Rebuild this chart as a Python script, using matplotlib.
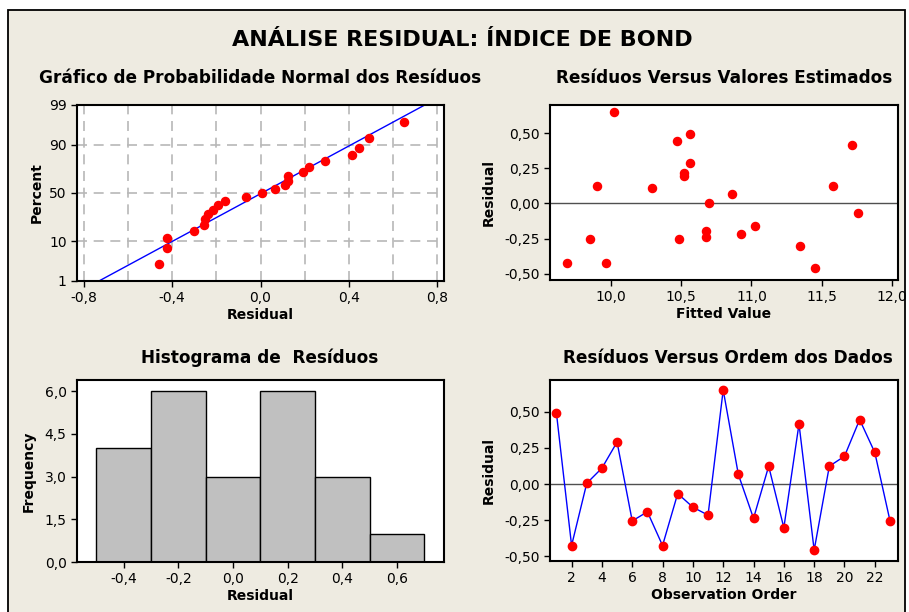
import matplotlib
matplotlib.use('Agg')
import matplotlib.pyplot as plt
from matplotlib.patches import Rectangle
from matplotlib.ticker import FuncFormatter, FixedLocator
from statistics import NormalDist
import numpy as np

# resíduos na ordem das observações
residuals = [0.49, -0.425, 0.005, 0.11, 0.29, -0.255, -0.192, -0.425, -0.066, -0.16,
             -0.215, 0.65, 0.066, -0.237, 0.123, -0.302, 0.415, -0.457, 0.123, 0.192,
             0.445, 0.218, -0.253]
# valores ajustados (mesma ordem)
fitted = [10.562, 9.685, 10.699, 10.294, 10.562, 10.486, 10.675, 9.964, 11.756, 11.024,
          10.924, 10.021, 10.858, 10.675, 11.578, 11.348, 11.713, 11.453, 9.898, 10.519,
          10.472, 10.519, 9.853]
observation = list(range(1, len(residuals) + 1))

hist_bins = [-0.5, -0.3, -0.1, 0.1, 0.3, 0.5, 0.7]
percent_ticks = [1, 10, 50, 90, 99]

W, H = 909, 612
BG = '#EEEBE1'

fig = plt.figure(figsize=(W / 100, H / 100), dpi=100)
fig.patch.set_facecolor('white')
fig.patches.append(Rectangle((8 / W, -0.02), (905 - 8) / W, 1.02 - 10 / H,
                             transform=fig.transFigure, facecolor=BG,
                             edgecolor='black', lw=1.3, zorder=-10))


def comma(fmt):
    return FuncFormatter(lambda v, pos: fmt.format(v).replace('.', ','))


def add_axes_px(left, top, right, bottom):
    ax = fig.add_axes([left / W, 1 - bottom / H, (right - left) / W, (bottom - top) / H])
    for side in ['left', 'right', 'top', 'bottom']:
        ax.spines[side].set_linewidth(1.5)
    ax.tick_params(direction='out', length=4, width=1, labelsize=10, top=False, right=False)
    return ax


# título geral
fig.text(462 / W, 1 - 40 / H, 'ANÁLISE RESIDUAL: ÍNDICE DE BOND',
         ha='center', va='center', fontsize=16, fontweight='bold')

# --- gráfico de probabilidade normal ---
nd = NormalDist()
n = len(residuals)
sorted_res = np.sort(residuals)
probs = (np.arange(1, n + 1) - 0.3) / (n + 0.4)
zs = [nd.inv_cdf(p) for p in probs]
mu = np.mean(residuals)
sd = np.std(residuals, ddof=1)
line_z = np.linspace(-3, 3, 50)

ax1 = add_axes_px(77, 105, 444, 281)
ax1.plot(mu + sd * line_z, line_z, color='blue', lw=1, zorder=2)
ax1.scatter(sorted_res, zs, color='red', s=34, zorder=3)
ax1.set_xlim(-0.83, 0.83)
ax1.set_ylim(nd.inv_cdf(0.01), nd.inv_cdf(0.99))
ax1.set_yticks([nd.inv_cdf(p / 100) for p in percent_ticks])
ax1.set_yticklabels([str(p) for p in percent_ticks])
ax1.set_xticks([-0.8, -0.4, 0.0, 0.4, 0.8])
ax1.xaxis.set_minor_locator(FixedLocator([-0.6, -0.2, 0.2, 0.6]))
ax1.xaxis.set_major_formatter(comma('{:.1f}'))
ax1.tick_params(axis='x', which='minor', length=0)
ax1.grid(True, which='both', color='#B8B8B8', linestyle=(0, (6, 4)), lw=1.2)
ax1.set_axisbelow(True)
ax1.set_xlabel('Residual', fontsize=10, fontweight='bold', labelpad=2)
ax1.set_ylabel('Percent', fontsize=10, fontweight='bold', labelpad=4)
fig.text(260 / W, 1 - 78 / H, 'Gráfico de Probabilidade Normal dos Resíduos',
         ha='center', va='center', fontsize=12.2, fontweight='bold')

# --- resíduos vs valores ajustados ---
ax2 = add_axes_px(550, 105, 898, 280)
ax2.axhline(0, color='#505050', lw=1)
ax2.scatter(fitted, residuals, color='red', s=34, zorder=3)
ax2.set_xlim(9.566, 12.043)
ax2.set_ylim(-0.543, 0.699)
ax2.set_xticks([10.0, 10.5, 11.0, 11.5, 12.0])
ax2.set_yticks([-0.5, -0.25, 0.0, 0.25, 0.5])
ax2.xaxis.set_major_formatter(comma('{:.1f}'))
ax2.yaxis.set_major_formatter(comma('{:.2f}'))
ax2.set_xlabel('Fitted Value', fontsize=10, fontweight='bold', labelpad=2)
ax2.set_ylabel('Residual', fontsize=10, fontweight='bold', labelpad=6)
fig.text(724 / W, 1 - 78 / H, 'Resíduos Versus Valores Estimados',
         ha='center', va='center', fontsize=12.2, fontweight='bold')

# --- histograma ---
ax3 = add_axes_px(77, 380, 444, 562)
ax3.hist(residuals, bins=hist_bins, color='#C0C0C0', edgecolor='black', lw=1)
ax3.set_xlim(-0.571, 0.772)
ax3.set_ylim(0, 6.39)
ax3.set_xticks([-0.4, -0.2, 0.0, 0.2, 0.4, 0.6])
ax3.set_yticks([0, 1.5, 3.0, 4.5, 6.0])
ax3.xaxis.set_major_formatter(comma('{:.1f}'))
ax3.yaxis.set_major_formatter(comma('{:.1f}'))
ax3.set_xlabel('Residual', fontsize=10, fontweight='bold', labelpad=2)
ax3.set_ylabel('Frequency', fontsize=10, fontweight='bold', labelpad=6)
fig.text(260 / W, 1 - 358 / H, 'Histograma de  Resíduos',
         ha='center', va='center', fontsize=12.2, fontweight='bold')

# --- resíduos vs ordem ---
ax4 = add_axes_px(550, 380, 898, 561)
ax4.axhline(0, color='#505050', lw=1)
ax4.plot(observation, residuals, color='blue', lw=1, marker='o', ms=6,
         mfc='red', mec='red', zorder=3)
ax4.set_xlim(0.576, 23.53)
ax4.set_ylim(-0.532, 0.719)
ax4.set_xticks(list(range(2, 23, 2)))
ax4.set_yticks([-0.5, -0.25, 0.0, 0.25, 0.5])
ax4.yaxis.set_major_formatter(comma('{:.2f}'))
ax4.set_xlabel('Observation Order', fontsize=10, fontweight='bold', labelpad=2)
ax4.set_ylabel('Residual', fontsize=10, fontweight='bold', labelpad=6)
fig.text(728 / W, 1 - 358 / H, 'Resíduos Versus Ordem dos Dados',
         ha='center', va='center', fontsize=12.2, fontweight='bold')

plt.savefig('out.png', dpi=100, facecolor=fig.get_facecolor())
